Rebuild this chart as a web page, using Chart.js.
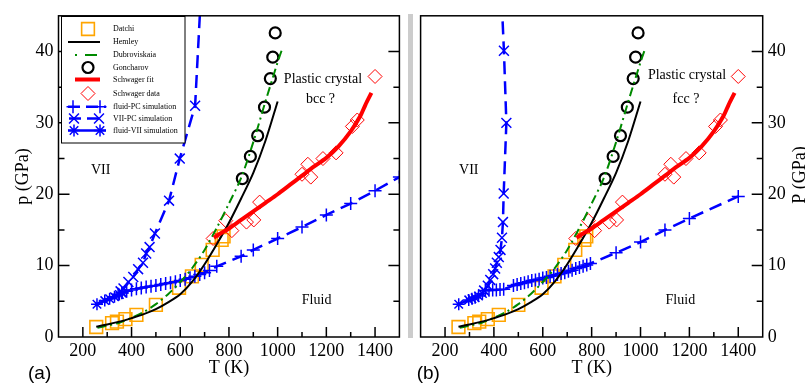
<!DOCTYPE html>
<html>
<head>
<meta charset="utf-8">
<script src="https://cdn.jsdelivr.net/npm/chart.js@4"></script>
<style>
  html, body { margin: 0; padding: 0; background: #fff; }
  #wrap { position: relative; width: 805px; height: 385px; overflow: hidden; background: #fff; }
  #ca { position: absolute; left: 0; top: 0; }
  #cb { position: absolute; left: 410px; top: 0; }
  #strip { position: absolute; left: 408px; top: 14px; width: 5px; height: 324px; background: #cccccc; }
</style>
</head>
<body>
<div id="wrap">
  <div id="strip"></div>
  <canvas id="ca" width="410" height="385"></canvas>
  <canvas id="cb" width="395" height="385"></canvas>
</div>
<script>
// ---------------- data ----------------
const xTicks = [200, 400, 600, 800, 1000, 1200, 1400];
const yTicks = [0, 10, 20, 30, 40];

// experimental data (same in both panels)
const datchiT = [255, 320, 340, 375, 420, 500, 595, 648, 688, 733, 770, 778];
const datchiP = [1.4, 1.95, 2.15, 2.5, 3.1, 4.5, 6.9, 8.5, 10.1, 12.2, 13.6, 14.1];

const hemleyT = [255, 300, 350, 400, 450, 500, 550, 600, 650, 700, 750, 800, 850, 900, 950, 1000];
const hemleyP = [1.45, 1.75, 2.15, 2.65, 3.2, 3.9, 4.85, 6.0, 7.8, 10.2, 13.0, 16.0, 19.4, 23.0, 27.5, 33.0];

const dubT = [260, 300, 350, 400, 450, 500, 550, 600, 650, 700, 750, 800, 850, 900, 950, 1000, 1020];
const dubP = [1.3, 1.6, 2.0, 2.7, 3.5, 4.6, 6.0, 7.7, 9.7, 12.2, 15.3, 18.7, 22.3, 27.3, 33.0, 38.5, 40.5];

const goncharovT = [855, 888, 918, 946, 970, 980, 990];
const goncharovP = [22.2, 25.3, 28.2, 32.2, 36.2, 39.2, 42.6];

const schwFitT = [738, 760, 800, 850, 900, 950, 1000, 1050, 1100, 1150, 1200, 1250, 1300, 1340, 1360, 1385];
const schwFitP = [13.9, 14.4, 15.2, 16.4, 17.6, 18.8, 20.0, 21.3, 22.6, 23.9, 25.1, 26.7, 28.8, 31.0, 32.5, 34.2];

const schwDataT = [735, 787, 812, 872, 902, 926, 1100, 1124, 1136, 1186, 1240, 1307, 1327];
const schwDataP = [13.8, 16.3, 14.9, 16.1, 16.4, 18.9, 22.8, 24.2, 22.4, 25.0, 25.8, 29.5, 30.4];

// annotation marker next to "Plastic crystal"
const plasticMarkT = [1400];
const plasticMarkP = [36.5];

// panel (a) simulations (bcc plastic crystal)
const aFluidVIIT = [258, 290, 310, 330, 350, 362];
const aFluidVIIP = [4.6, 5.1, 5.35, 5.65, 5.95, 6.15];
const aFluidPCT = [345, 360, 380, 400, 420, 440, 460, 480, 500, 520, 540, 560, 580, 600, 620, 640, 660, 680, 700, 720, 750, 850, 900, 1000, 1100, 1200, 1300, 1400, 1500];
const aFluidPCP = [6.0, 6.2, 6.4, 6.6, 6.75, 6.85, 7.0, 7.1, 7.2, 7.35, 7.5, 7.6, 7.75, 7.9, 8.1, 8.3, 8.5, 8.75, 9.0, 9.3, 9.9, 11.3, 12.2, 13.8, 15.4, 17.1, 18.7, 20.5, 22.4];
const aVIIPCT = [355, 367, 387, 407, 427, 447, 460, 474, 496, 554, 598, 661, 688];
const aVIIPCP = [6.4, 6.8, 7.7, 8.4, 9.5, 10.4, 11.7, 12.6, 14.5, 19.1, 25.0, 32.4, 50];

// panel (b) simulations (fcc plastic crystal)
const bFluidVIIT = [256, 297, 310, 323, 337, 353];
const bFluidVIIP = [4.6, 5.2, 5.35, 5.5, 5.75, 6.1];
const bFluidPCT = [365, 380, 395, 410, 425, 440, 480, 495, 510, 525, 540, 555, 570, 585, 600, 615, 630, 645, 660, 675, 690, 705, 720, 735, 750, 765, 780, 795, 900, 1000, 1100, 1200, 1400];
const bFluidPCP = [6.5, 6.55, 6.6, 6.6, 6.65, 6.7, 7.2, 7.35, 7.5, 7.6, 7.75, 7.9, 8.0, 8.1, 8.25, 8.35, 8.5, 8.6, 8.75, 8.9, 9.0, 9.2, 9.35, 9.6, 9.75, 9.9, 10.1, 10.3, 11.8, 13.3, 15.0, 16.6, 19.7];
const bVIIPCT = [360, 375, 385, 397, 405, 412, 420, 427, 433, 437, 440, 451, 441, 432];
const bVIIPCP = [6.5, 7.2, 8.0, 8.8, 9.6, 10.4, 11.2, 12.2, 13.9, 16.1, 20.1, 30.0, 40.1, 47];

const legendLabels = ['Datchi', 'Hemley', 'Dubroviskaia', 'Goncharov', 'Schwager fit', 'Schwager data',
  'fluid-PC simulation', 'VII-PC simulation', 'fluid-VII simulation'];

// ---------------- helpers ----------------
const zip = (xs, ys) => xs.map((v, i) => ({ x: v, y: ys[i] }));
const SERIF = '"Liberation Serif", "Times New Roman", serif';
const SANS = '"Liberation Sans", Arial, sans-serif';
const BLUE = '#0000ff', ORANGE = '#ffa500', GREEN = '#008a00', RED = '#ff0000';

function commonDatasets(fluidPC, viiPC, fluidVII) {
  return [
    { label: 'Schwager fit', data: zip(schwFitT, schwFitP), showLine: true, borderColor: RED, borderWidth: 4, pointRadius: 0, tension: 0.3, fill: false },
    { label: 'Hemley', data: zip(hemleyT, hemleyP), showLine: true, borderColor: '#000', borderWidth: 2, pointRadius: 0, tension: 0.3 },
    { label: 'Dubroviskaia', data: zip(dubT, dubP), showLine: true, borderColor: GREEN, borderWidth: 2, borderDash: [9, 4, 2, 4], pointRadius: 0, tension: 0.3 },
    { label: 'Goncharov', data: zip(goncharovT, goncharovP), showLine: false, pointStyle: 'circle', pointRadius: 5.5, borderColor: '#000', backgroundColor: 'rgba(0,0,0,0)', pointBorderWidth: 2.2 },
    { label: 'fluid-VII simulation', data: fluidVII, showLine: true, borderColor: BLUE, backgroundColor: BLUE, borderWidth: 2.5, pointStyle: 'star', pointRadius: 6, pointBorderWidth: 1.5 },
    { label: 'VII-PC simulation', data: viiPC, showLine: true, borderColor: BLUE, backgroundColor: BLUE, borderWidth: 2.5, borderDash: [13, 7], pointStyle: 'crossRot', pointRadius: 7, pointBorderWidth: 1.5 },
    { label: 'fluid-PC simulation', data: fluidPC, showLine: true, borderColor: BLUE, backgroundColor: BLUE, borderWidth: 2.5, borderDash: [13, 7], pointStyle: 'cross', pointRadius: 6.5, pointBorderWidth: 1.5 },
    { label: 'Schwager data', data: zip(schwDataT, schwDataP), showLine: false, pointStyle: 'rectRot', pointRadius: 7, borderColor: RED, backgroundColor: 'rgba(0,0,0,0)', pointBorderWidth: 1 },
    { label: 'marker', data: zip(plasticMarkT, plasticMarkP), showLine: false, pointStyle: 'rectRot', pointRadius: 7, borderColor: RED, backgroundColor: 'rgba(0,0,0,0)', pointBorderWidth: 1 },
    { label: 'Datchi', data: zip(datchiT, datchiP), showLine: false, pointStyle: 'rect', pointRadius: 9, borderColor: ORANGE, backgroundColor: 'rgba(0,0,0,0)', pointBorderWidth: 1.6 }
  ];
}

function drawFrame(chart, leftTicks, rightTicks) {
  const { ctx, chartArea: a, scales: { x, y } } = chart;
  ctx.save();
  ctx.strokeStyle = '#000';
  ctx.lineWidth = 1.5;
  ctx.strokeRect(a.left, a.top, a.right - a.left, a.bottom - a.top);
  ctx.beginPath();
  for (let v = 200; v < 1500; v += 100) {
    const px = x.getPixelForValue(v);
    const len = v % 200 === 0 ? 10 : 5;
    ctx.moveTo(px, a.bottom); ctx.lineTo(px, a.bottom - len);
  }
  for (let v = 5; v < 45; v += 5) {
    const py = y.getPixelForValue(v);
    const len = v % 10 === 0 ? 11 : 6;
    if (leftTicks) { ctx.moveTo(a.left, py); ctx.lineTo(a.left + len, py); }
    if (rightTicks) { ctx.moveTo(a.right, py); ctx.lineTo(a.right - len, py); }
  }
  ctx.stroke();
  ctx.restore();
}

function txt(ctx, s, x, y, font, align, base) {
  ctx.font = font; ctx.textAlign = align || 'center'; ctx.textBaseline = base || 'middle';
  ctx.fillStyle = '#000'; ctx.fillText(s, x, y);
}

function drawAnnotations(chart, items) {
  const { ctx, scales: { x, y } } = chart;
  ctx.save();
  items.forEach(it => txt(ctx, it.t, x.getPixelForValue(it.x), y.getPixelForValue(it.y), '14px ' + SERIF));
  ctx.restore();
}

// marker drawing for the legend
function mk(ctx, style, cx, cy, r, color, lw) {
  ctx.save();
  ctx.strokeStyle = color; ctx.lineWidth = lw;
  ctx.beginPath();
  if (style === 'rect') { const s = r * Math.SQRT1_2; ctx.rect(cx - s, cy - s, 2 * s, 2 * s); }
  else if (style === 'circle') { ctx.arc(cx, cy, r, 0, Math.PI * 2); }
  else if (style === 'rectRot') { ctx.moveTo(cx, cy - r); ctx.lineTo(cx + r, cy); ctx.lineTo(cx, cy + r); ctx.lineTo(cx - r, cy); ctx.closePath(); }
  else {
    const d = r * Math.SQRT1_2;
    if (style === 'cross' || style === 'star') { ctx.moveTo(cx - r, cy); ctx.lineTo(cx + r, cy); ctx.moveTo(cx, cy - r); ctx.lineTo(cx, cy + r); }
    if (style === 'crossRot' || style === 'star') { ctx.moveTo(cx - d, cy - d); ctx.lineTo(cx + d, cy + d); ctx.moveTo(cx - d, cy + d); ctx.lineTo(cx + d, cy - d); }
  }
  ctx.stroke();
  ctx.restore();
}
function seg(ctx, x1, x2, y, color, lw, dash) {
  ctx.save(); ctx.strokeStyle = color; ctx.lineWidth = lw; ctx.setLineDash(dash || []);
  ctx.beginPath(); ctx.moveTo(x1, y); ctx.lineTo(x2, y); ctx.stroke(); ctx.restore();
}

function drawLegend(chart) {
  const ctx = chart.ctx;
  ctx.save();
  ctx.fillStyle = '#fff';
  ctx.fillRect(61.5, 16.5, 123.5, 126.5);
  ctx.strokeStyle = '#000'; ctx.lineWidth = 1;
  ctx.strokeRect(61.5, 16.5, 123.5, 126.5);
  const rows = [29, 42, 55, 67.5, 79.5, 93.5, 106.7, 118.5, 130.5];
  // symbols
  mk(ctx, 'rect', 88, rows[0], 9, ORANGE, 1.6);
  seg(ctx, 68, 100, rows[1], '#000', 2);
  seg(ctx, 75, 77, rows[2], GREEN, 2); seg(ctx, 85, 97, rows[2], GREEN, 2);
  mk(ctx, 'circle', 88, rows[3], 5.5, '#000', 2.2);
  seg(ctx, 75, 100, rows[4], RED, 4);
  mk(ctx, 'rectRot', 88, rows[5], 7, RED, 1);
  seg(ctx, 68, 106, rows[6], BLUE, 2.5, [12, 6]);
  mk(ctx, 'cross', 73, rows[6], 6.5, BLUE, 1.5); mk(ctx, 'cross', 100, rows[6], 6.5, BLUE, 1.5);
  seg(ctx, 69, 104, rows[7], BLUE, 2.5, [12, 6]);
  mk(ctx, 'crossRot', 74, rows[7], 7, BLUE, 1.5); mk(ctx, 'crossRot', 99, rows[7], 7, BLUE, 1.5);
  seg(ctx, 68, 106, rows[8], BLUE, 2.5);
  mk(ctx, 'star', 74, rows[8], 6, BLUE, 1.5); mk(ctx, 'star', 100, rows[8], 6, BLUE, 1.5);
  legendLabels.forEach((s, i) => txt(ctx, s, 113, rows[i], '8px ' + SERIF, 'left', 'middle'));
  ctx.restore();
}

function axisCfg(side, yWidth) {
  return {
    x: {
      type: 'linear', min: 100, max: 1500,
      afterBuildTicks: s => { s.ticks = xTicks.map(v => ({ value: v })); },
      afterFit: s => { s.height = 48; },
      grid: { display: false, drawTicks: false },
      border: { display: false },
      ticks: { color: '#000', font: { family: SERIF, size: 18 }, padding: 3, maxRotation: 0, autoSkip: false, callback: v => String(v) },
      title: { display: true, text: 'T (K)', color: '#000', font: { family: SERIF, size: 18 }, padding: { top: 0, bottom: 6 } }
    },
    y: {
      type: 'linear', min: 0, max: 45, position: side,
      afterBuildTicks: s => { s.ticks = yTicks.map(v => ({ value: v })); },
      afterFit: s => { s.width = yWidth; },
      grid: { display: false, drawTicks: false },
      border: { display: false },
      ticks: { color: '#000', font: { family: SERIF, size: 18 }, padding: 5, autoSkip: false, callback: v => String(v) },
      title: { display: side === 'left', text: 'p (GPa)', color: '#000', font: { family: SERIF, size: 18 }, padding: { top: 12, bottom: 0 } }
    }
  };
}

const baseOpts = {
  responsive: false, animation: false, devicePixelRatio: 1,
  plugins: { legend: { display: false }, tooltip: { enabled: false } },
  elements: { line: { borderJoinStyle: 'round' } }
};

// ---------------- panel (a) ----------------
new Chart(document.getElementById('ca'), {
  type: 'scatter',
  data: { datasets: commonDatasets(zip(aFluidPCT, aFluidPCP), zip(aVIIPCT, aVIIPCP), zip(aFluidVIIT, aFluidVIIP)) },
  options: Object.assign({}, baseOpts, {
    layout: { padding: { top: 15, right: 2.5, left: 0, bottom: 0 } },
    scales: axisCfg('left', 58.5)
  }),
  plugins: [{
    id: 'decorA',
    afterDatasetsDraw(chart) {
      drawAnnotations(chart, [
        { t: 'VII', x: 273, y: 23.3 },
        { t: 'Fluid', x: 1160, y: 5.2 },
        { t: 'Plastic crystal', x: 1186, y: 36.1 },
        { t: 'bcc ?', x: 1176, y: 33.3 }
      ]);
    },
    afterDraw(chart) {
      drawFrame(chart, true, true);
      drawLegend(chart);
      const ctx = chart.ctx; ctx.save();
      txt(ctx, '(a)', 28, 379, '19px ' + SANS, 'left', 'alphabetic');
      ctx.restore();
    }
  }]
});

// ---------------- panel (b) ----------------
new Chart(document.getElementById('cb'), {
  type: 'scatter',
  data: { datasets: commonDatasets(zip(bFluidPCT, bFluidPCP), zip(bVIIPCT, bVIIPCP), zip(bFluidVIIT, bFluidVIIP)) },
  options: Object.assign({}, baseOpts, {
    layout: { padding: { top: 15, right: 0, left: 4, bottom: 0 } },
    scales: axisCfg('right', 42.3)
  }),
  plugins: [{
    id: 'decorB',
    afterDatasetsDraw(chart) {
      drawAnnotations(chart, [
        { t: 'VII', x: 297, y: 23.3 },
        { t: 'Fluid', x: 1163, y: 5.1 },
        { t: 'Plastic crystal', x: 1190, y: 36.7 },
        { t: 'fcc ?', x: 1186, y: 33.3 }
      ]);
    },
    afterDraw(chart) {
      drawFrame(chart, false, true);
      const ctx = chart.ctx; ctx.save();
      ctx.translate(395, 175); ctx.rotate(-Math.PI / 2);
      txt(ctx, 'P (GPa)', 0, 0, '18px ' + SERIF, 'center', 'alphabetic');
      ctx.restore();
      ctx.save();
      txt(ctx, '(b)', 6.7, 379, '19px ' + SANS, 'left', 'alphabetic');
      ctx.restore();
    }
  }]
});
</script>
</body>
</html>
